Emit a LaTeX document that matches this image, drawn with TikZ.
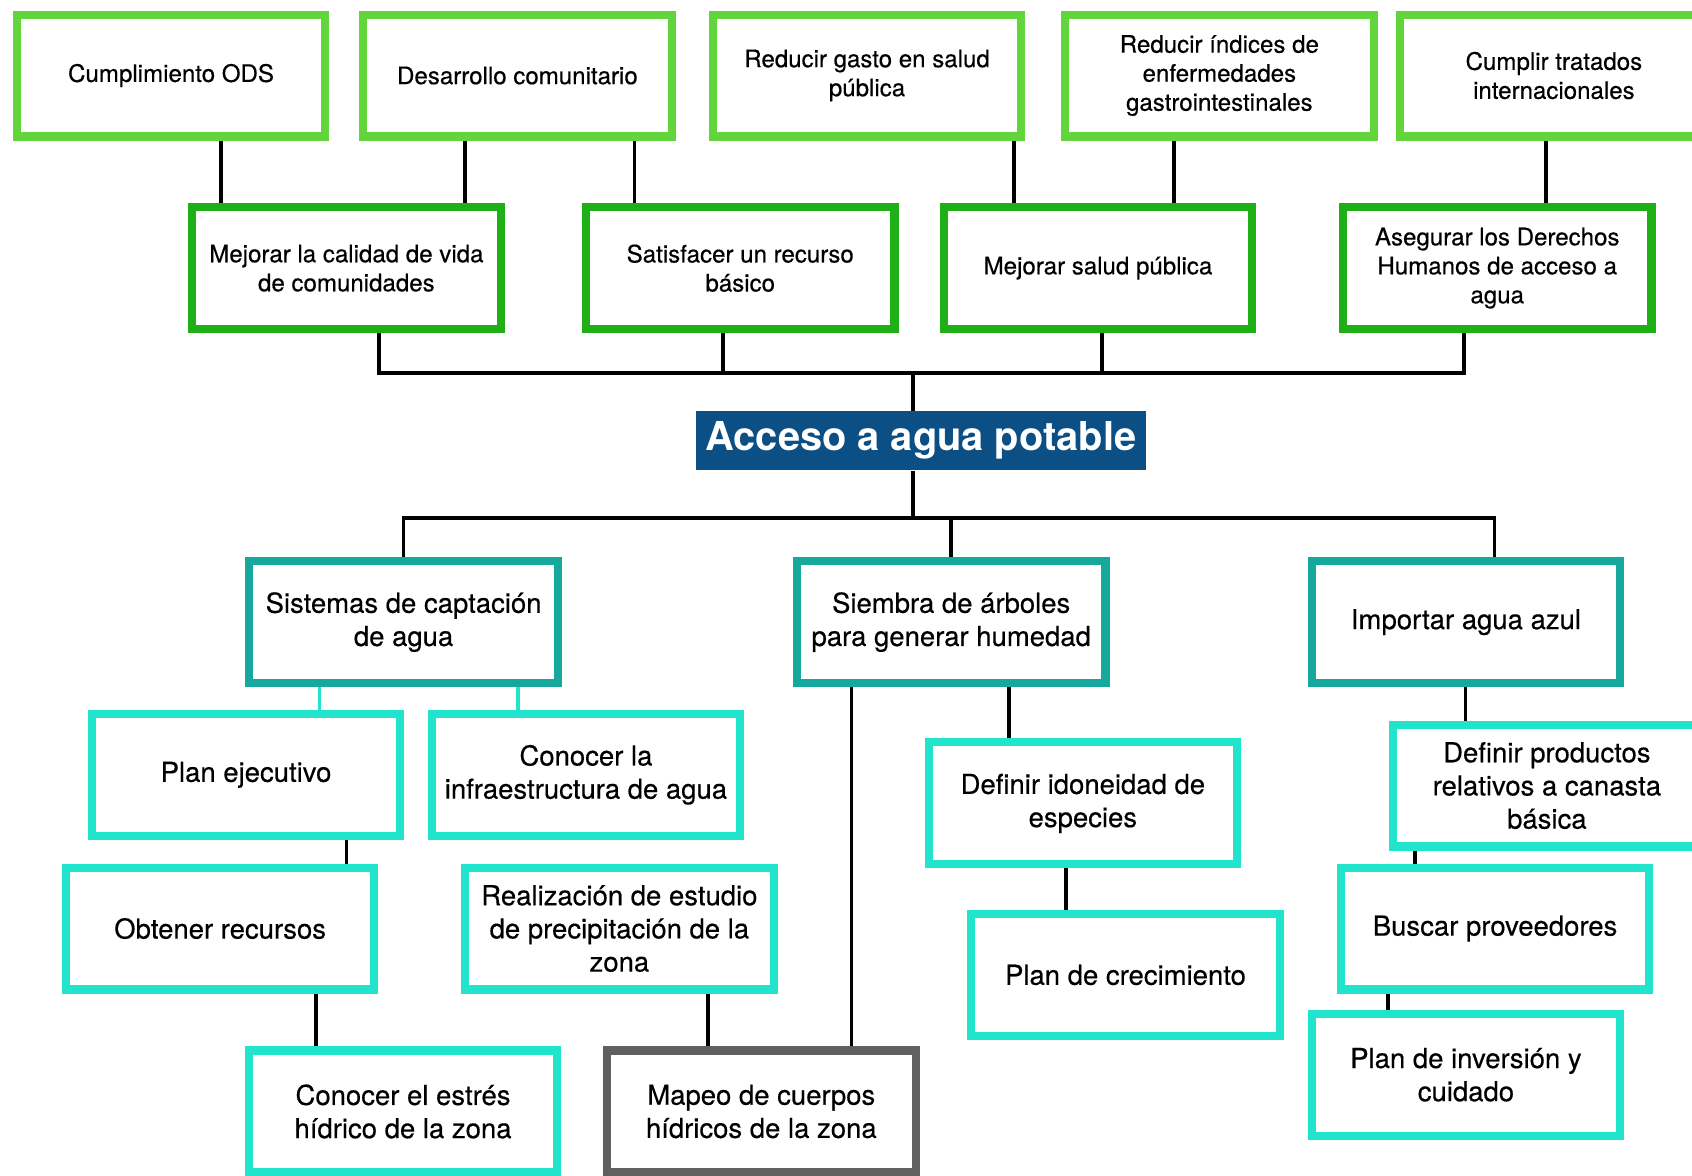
\documentclass[tikz,border=0pt]{standalone}
\usepackage{fontspec}
\setmainfont{TeX Gyre Heros}
\newfontfamily\boxfont{TeX Gyre Heros}[FakeBold=0.4]
\usepackage{xcolor}
\usepackage{tikz}
\usetikzlibrary{backgrounds}
\definecolor{goalgreen}{RGB}{98,212,60}
\definecolor{aimgreen}{RGB}{30,176,20}
\definecolor{titleblue}{RGB}{11,79,133}
\definecolor{meanteal}{RGB}{22,168,156}
\definecolor{actcyan}{RGB}{32,228,204}
\definecolor{pendgray}{RGB}{96,96,96}
\newcommand{\smalltxt}{\boxfont\fontsize{12.7}{15.3}\selectfont}
\newcommand{\bigtxt}{\boxfont\fontsize{14.5}{17.5}\selectfont}

\begin{document}
\begin{tikzpicture}[x=0.02cm, y=-0.02cm]
    \tikzstyle{goal} = [rectangle, draw=goalgreen, line width=0.15cm, fill=white, minimum width=5.72cm, minimum height=2.26cm, inner sep=0pt, align=center, font=\smalltxt]
    \tikzstyle{aim} = [goal, draw=aimgreen]
    \tikzstyle{means} = [goal, draw=meanteal, font=\bigtxt]
    \tikzstyle{action} = [means, draw=actcyan]
    \tikzstyle{pending} = [means, draw=pendgray]
    \tikzstyle{link} = [line width=0.07cm, draw=black]

    \useasboundingbox (0,0) rectangle (1568,1089);
    \clip (0,0) rectangle (1568,1089);

    % Ends
    \node [goal] (ods) at (158.5,70) {Cumplimiento ODS};
    \node [goal] (desarrollo) at (479.5,70) {Desarrollo comunitario};
    \node [goal] (gasto) at (803.5,70) {Reducir gasto en salud\\pública};
    \node [goal] (indices) at (1130,70) {Reducir índices de\\enfermedades\\gastrointestinales};
    \node [goal] (tratados) at (1440,70) {Cumplir tratados\\internacionales};

    % Aims
    \node [aim] (calidad) at (321,248.5) {Mejorar la calidad de vida\\de comunidades};
    \node [aim] (recurso) at (686,248.5) {Satisfacer un recurso\\básico};
    \node [aim] (salud) at (1017.5,248.5) {Mejorar salud pública};
    \node [aim] (derechos) at (1387.5,248.5) {Asegurar los Derechos\\Humanos de acceso a\\agua};

    % Core
    \node [fill=titleblue, text=white, font=\bfseries\fontsize{21}{25}\selectfont, minimum width=8.34cm, minimum height=1.1cm, inner sep=0pt] (agua) at (853.5,408.5) {Acceso a agua potable};
    \coordinate (busup) at (846,346);
    \coordinate (buslow) at (846,480);

    % Means
    \node [means] (captacion) at (374,576.5) {Sistemas de captación\\de agua};
    \node [means] (siembra) at (881.5,576.5) {Siembra de árboles\\para generar humedad};
    \node [means] (importar) at (1358.5,576.5) {Importar agua azul};

    % Actions
    \node [action] (plan) at (228,718) {Plan ejecutivo};
    \node [action] (infra) at (543,718) {Conocer la\\infraestructura de agua};
    \node [action] (recursos) at (204,860.5) {Obtener recursos};
    \node [action] (estudio) at (574,860.5) {Realización de estudio\\de precipitación de la\\zona};
    \node [action] (estres) at (373.5,1030) {Conocer el estrés\\hídrico de la zona};
    \node [pending] (mapeo) at (705.5,1030) {Mapeo de cuerpos\\hídricos de la zona};
    \node [action] (especies) at (1003.5,744.5) {Definir idoneidad de\\especies};
    \node [action] (crecimiento) at (1043,903.5) {Plan de crecimiento};
    \node [action] (canasta) at (1433.5,728) {Definir productos\\relativos a canasta\\básica};
    \node [action] (proveedores) at (1385.5,860.5) {Buscar proveedores};
    \node [action] (inversion) at (1358.5,996) {Plan de inversión y\\cuidado};

    \begin{pgfonlayer}{background}
    % Ends to aims
    \draw [link] (205,0 |- ods.south) -- (205,0 |- calidad.north);
    \draw [link] (431,0 |- desarrollo.south) -- (431,0 |- calidad.north);
    \draw [link] (588,0 |- desarrollo.south) -- (588,0 |- recurso.north);
    \draw [link] (940,0 |- gasto.south) -- (940,0 |- salud.north);
    \draw [link] (1088,0 |- indices.south) -- (1088,0 |- salud.north);
    \draw [link] (1433,0 |- tratados.south) -- (1433,0 |- derechos.north);

    % Aims to core
    \draw [link] (351,0 |- calidad.south) |- (busup) -| (1357,0 |- derechos.south);
    \draw [link] (670,0 |- recurso.south) -- (670,0 |- busup);
    \draw [link] (1021,0 |- salud.south) -- (1021,0 |- busup);
    \draw [link] (busup) -- (busup |- agua.north);

    % Core to means
    \draw [link] (agua.south -| buslow) -- (buslow);
    \draw [link] (captacion.north) |- (buslow) -| (1385,0 |- importar.north);
    \draw [link] (881,0 |- buslow) -- (881,0 |- siembra.north);

    % Means to actions
    \draw [link, draw=actcyan] (296,0 |- captacion.south) -- (296,0 |- plan.north);
    \draw [link, draw=actcyan] (480,0 |- captacion.south) -- (480,0 |- infra.north);
    \draw [link] (321,0 |- plan.south) -- (321,0 |- recursos.north);
    \draw [link] (293,0 |- recursos.south) -- (293,0 |- estres.north);
    \draw [link] (656,0 |- estudio.south) -- (656,0 |- mapeo.north);
    \draw [link] (789,0 |- siembra.south) -- (789,0 |- mapeo.north);
    \draw [link] (935,0 |- siembra.south) -- (935,0 |- especies.north);
    \draw [link] (988,0 |- especies.south) -- (988,0 |- crecimiento.north);
    \draw [link] (1358,0 |- importar.south) -- (1358,0 |- canasta.north);
    \draw [link] (1311,0 |- canasta.south) -- (1311,0 |- proveedores.north);
    \draw [link] (1286,0 |- proveedores.south) -- (1286,0 |- inversion.north);
    \end{pgfonlayer}
\end{tikzpicture}
\end{document}
